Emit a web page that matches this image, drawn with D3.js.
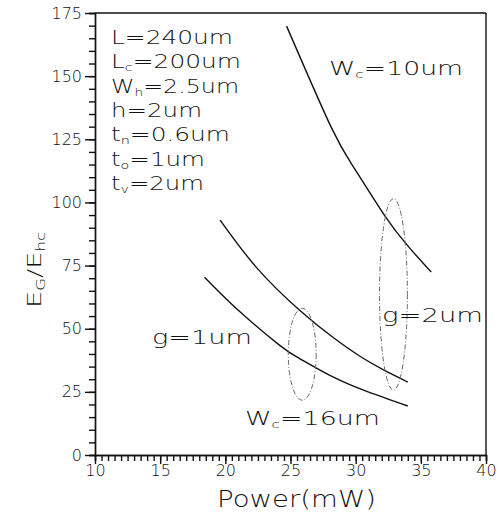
<!DOCTYPE html>
<html>
<head>
<meta charset="utf-8">
<script src="https://cdn.jsdelivr.net/npm/d3@7"></script>
<style>
  body { margin: 0; background: #fff; }
  svg text { font-family: "DejaVu Sans", Arial, sans-serif; font-weight: 200; fill: #111; }
  .axis path, .axis line { stroke: #111; stroke-width: 1.4; }
</style>
</head>
<body>
<div id="chart"></div>
<script>
// values
var powerW10 = [24.7, 28.1, 29.9, 32.2, 34.0, 35.8];
var ratioW10 = [169.8, 130.0, 113.5, 95.0, 82.8, 72.4];

var powerG2 = [19.6, 22.4, 25.7, 28.3, 30.3, 32.1, 34.0];
var ratioG2 = [93.0, 74.2, 57.3, 46.4, 39.2, 33.8, 28.9];

var powerG1 = [18.4, 21.1, 24.2, 25.7, 28.3, 30.9, 34.0];
var ratioG1 = [70.4, 56.8, 43.3, 38.2, 30.8, 25.1, 19.4];

// dashed ellipses: [centre power, centre ratio, half width (mW), half height]
var ellipses = [[25.9, 39.9, 1.07, 18.2], [32.9, 63.6, 1.07, 37.9]];

var xTicks = [10, 15, 20, 25, 30, 35, 40];
var yTicks = [0, 25, 50, 75, 100, 125, 150, 175];

var params = [
    ['L', '', '=240um'],
    ['L', 'c', '=200um'],
    ['W', 'h', '=2.5um'],
    ['h', '', '=2um'],
    ['t', 'n', '=0.6um'],
    ['t', 'o', '=1um'],
    ['t', 'v', '=2um']
];
var paramWidths = [122, 130, 128, 91, 119, 94, 93];

var svgWidth = 499, svgHeight = 515;
var margin = {top: 13, right: 13, bottom: 60, left: 95};
var width = svgWidth - margin.left - margin.right;
var height = svgHeight - margin.top - margin.bottom;

var svg = d3.select('#chart').append('svg')
    .attr('width', svgWidth).attr('height', svgHeight);

var g = svg.append('g')
    .attr('transform', 'translate(' + margin.left + ',' + margin.top + ')');

var x = d3.scaleLinear().domain([10, 40]).range([0, width]);
var y = d3.scaleLinear().domain([0, 175]).range([height, 0]);

// minor ticks
g.append('g').attr('class', 'axis')
    .attr('transform', 'translate(0,' + height + ')')
    .call(d3.axisBottom(x).tickValues(d3.range(10, 40.01, 0.5)).tickSize(6).tickFormat(''));
g.append('g').attr('class', 'axis')
    .call(d3.axisLeft(y).tickValues(d3.range(0, 175.01, 5)).tickSize(6).tickFormat(''));

// major ticks + labels
g.append('g').attr('class', 'axis')
    .attr('transform', 'translate(0,' + height + ')')
    .call(d3.axisBottom(x).tickValues(xTicks).tickSize(9).tickPadding(1).tickSizeOuter(0));
g.append('g').attr('class', 'axis')
    .call(d3.axisLeft(y).tickValues(yTicks).tickSize(10).tickPadding(3).tickSizeOuter(0));
g.selectAll('.axis text')
    .style('font-family', '"DejaVu Sans", Arial, sans-serif')
    .style('font-weight', '200')
    .style('font-size', '16px').attr('fill', '#111');

// frame top/right
g.append('line').attr('x1', 0).attr('x2', width).attr('y1', 0).attr('y2', 0)
    .attr('stroke', '#111').attr('stroke-width', 1.4);
g.append('line').attr('x1', width).attr('x2', width).attr('y1', 0).attr('y2', height)
    .attr('stroke', '#111').attr('stroke-width', 1.4);

// curves
var line = d3.line()
    .x(function(d) { return x(d[0]); })
    .y(function(d) { return y(d[1]); })
    .curve(d3.curveNatural);

[[powerW10, ratioW10], [powerG2, ratioG2], [powerG1, ratioG1]].forEach(function(s) {
    g.append('path')
        .datum(d3.zip(s[0], s[1]))
        .attr('fill', 'none')
        .attr('stroke', '#111')
        .attr('stroke-width', 1.4)
        .attr('d', line);
});

// ellipses
g.selectAll('.ell').data(ellipses).enter().append('ellipse')
    .attr('cx', function(d) { return x(d[0]); })
    .attr('cy', function(d) { return y(d[1]); })
    .attr('rx', function(d) { return x(d[0] + d[2]) - x(d[0]); })
    .attr('ry', function(d) { return y(0) - y(d[3]); })
    .attr('fill', 'none')
    .attr('stroke', '#666')
    .attr('stroke-width', 1)
    .attr('stroke-dasharray', '5,2,1,2');

// text with an optional subscript, stretched to the reference width
function label(xp, yp, w, main, sub, rest) {
    var t = svg.append('text')
        .attr('x', xp).attr('y', yp)
        .style('font-size', '19px')
        .attr('textLength', w).attr('lengthAdjust', 'spacingAndGlyphs');
    t.append('tspan').text(main);
    if (sub) t.append('tspan').attr('dy', 3).style('font-size', '11px').text(sub);
    t.append('tspan').attr('dy', sub ? -3 : 0).text(rest);
}

// parameter block
params.forEach(function(p, i) {
    label(111, 44 + i * 24.3, paramWidths[i], p[0], p[1], p[2]);
});

// labels inside the plot
label(329, 75, 134, 'W', 'c', '=10um');
label(152, 344, 100, 'g', '', '=1um');
label(382, 322, 101, 'g', '', '=2um');
label(245, 425, 135, 'W', 'c', '=16um');

// axis titles
svg.append('text')
    .attr('x', 217).attr('y', 507)
    .style('font-size', '23px')
    .attr('textLength', 159).attr('lengthAdjust', 'spacingAndGlyphs')
    .text('Power(mW)');

var yl = svg.append('text')
    .attr('transform', 'translate(41,308) rotate(-90)')
    .style('font-size', '20px')
    .attr('textLength', 76).attr('lengthAdjust', 'spacingAndGlyphs');
yl.append('tspan').text('E');
yl.append('tspan').attr('dy', 4).style('font-size', '12px').text('G');
yl.append('tspan').attr('dy', -4).text('/E');
yl.append('tspan').attr('dy', 4).style('font-size', '12px').text('hc');
</script>
</body>
</html>
